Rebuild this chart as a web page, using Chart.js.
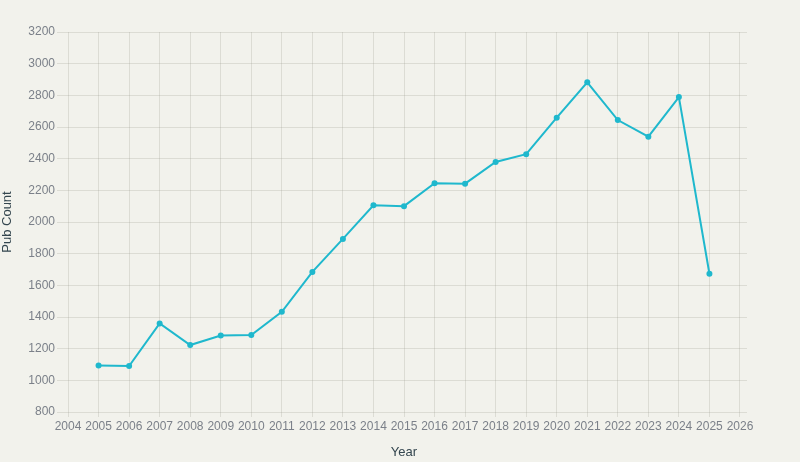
<!DOCTYPE html>
<html>
<head>
<meta charset="utf-8">
<script src="https://cdn.jsdelivr.net/npm/chart.js@4"></script>
<style>
  html, body { margin: 0; padding: 0; background: #f2f2ec; }
  #wrap { width: 800px; height: 462px; }
</style>
</head>
<body>
<div id="wrap"><canvas id="grafico"></canvas></div>
<script>
// dati
var anni = [2005, 2006, 2007, 2008, 2009, 2010, 2011, 2012, 2013, 2014, 2015,
            2016, 2017, 2018, 2019, 2020, 2021, 2022, 2023, 2024, 2025];
var pubCount = [1094, 1090, 1359, 1223, 1283, 1286, 1433, 1685, 1893, 2106, 2100,
                2245, 2242, 2379, 2428, 2659, 2882, 2644, 2539, 2789, 1673];
var tickAnni = [2004, 2005, 2006, 2007, 2008, 2009, 2010, 2011, 2012, 2013, 2014, 2015,
                2016, 2017, 2018, 2019, 2020, 2021, 2022, 2023, 2024, 2025, 2026];

var punti = [];
for (var i = 0; i < anni.length; i++) {
    punti.push({ x: anni[i], y: pubCount[i] });
}

var grigioTick = '#7b8089';
var coloreTitolo = '#34464f';
var griglia = 'rgba(150,150,140,0.24)';
var font = '"Liberation Sans", Arial, sans-serif';

var ctx = document.getElementById('grafico');
var chart = new Chart(ctx, {
    type: 'line',
    data: {
        datasets: [{
            label: 'Pub Count',
            data: punti,
            borderColor: '#1fb8cd',
            backgroundColor: '#1fb8cd',
            borderWidth: 2,
            pointRadius: 3,
            pointBorderWidth: 0,
            pointHoverRadius: 3,
            tension: 0
        }]
    },
    options: {
        responsive: true,
        maintainAspectRatio: false,
        animation: false,
        layout: { padding: { left: 0, top: 32, right: 53, bottom: 0 } },
        plugins: {
            legend: { display: false },
            tooltip: { enabled: false }
        },
        scales: {
            x: {
                type: 'linear',
                min: 2003.77,
                max: 2026.23,
                afterBuildTicks: function (scale) {
                    scale.ticks = tickAnni.map(function (v) { return { value: v }; });
                },
                afterFit: function (scale) { scale.height = 50; },
                border: { display: false },
                grid: { color: griglia, tickLength: 5, tickColor: griglia },
                ticks: {
                    color: grigioTick,
                    font: { family: font, size: 12 },
                    padding: 2,
                    maxRotation: 0,
                    autoSkip: false,
                    callback: function (v) { return String(v); }
                },
                title: {
                    display: true,
                    text: 'Year',
                    color: coloreTitolo,
                    font: { family: font, size: 13 },
                    padding: { top: 0, bottom: 2 }
                }
            },
            y: {
                min: 800,
                max: 3200,
                afterFit: function (scale) { scale.width = 61; },
                border: { display: false },
                grid: { color: griglia, tickLength: 4, tickColor: griglia },
                ticks: {
                    stepSize: 200,
                    color: grigioTick,
                    font: { family: font, size: 12 },
                    padding: 2,
                    callback: function (v) { return String(v); }
                },
                title: {
                    display: true,
                    text: 'Pub Count',
                    color: coloreTitolo,
                    font: { family: font, size: 13 },
                    padding: { top: 0, bottom: 0 }
                }
            }
        }
    }
});
</script>
</body>
</html>
